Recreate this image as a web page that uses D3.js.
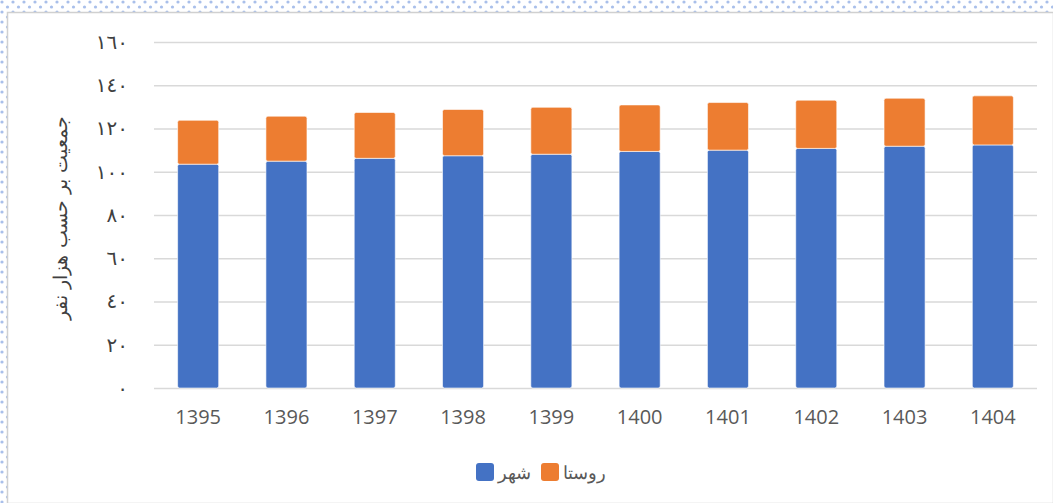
<!DOCTYPE html>
<html>
<head>
<meta charset="utf-8">
<script src="https://cdn.jsdelivr.net/npm/d3@7"></script>
<style>
  body { margin: 0; background: #fff; }
  svg { display: block; }
</style>
</head>
<body>
<svg width="1053" height="503"></svg>
<script>
// data (population, thousands)
var years = ["1395", "1396", "1397", "1398", "1399", "1400", "1401", "1402", "1403", "1404"];
var urban = [103.5, 104.9, 106.2, 107.4, 108.1, 109.4, 110.0, 110.8, 111.8, 112.4];
var rural = [20.3, 20.8, 21.2, 21.4, 21.7, 21.5, 22.0, 22.3, 22.2, 22.7];
var yTicks = [0, 20, 40, 60, 80, 100, 120, 140, 160];
var seriesNames = ["شهر", "روستا"];
var colors = ["#4472c4", "#ed7d31"];
var yTitle = "جمعیت بر حسب هزار نفر";

var svg = d3.select("svg");
var width = +svg.attr("width");
var height = +svg.attr("height");

// arabic-indic digits for the y ticks
var toArabic = function (n) {
  return String(n).replace(/[0-9]/g, function (c) { return "٠١٢٣٤٥٦٧٨٩"[+c]; });
};

// dotted page background
var defs = svg.append("defs");
var pat = defs.append("pattern")
  .attr("id", "dots")
  .attr("patternUnits", "userSpaceOnUse")
  .attr("width", 11).attr("height", 10);
pat.append("rect").attr("width", 11).attr("height", 10).attr("fill", "#fff");
pat.append("circle").attr("cx", 2).attr("cy", 2).attr("r", 1.6).attr("fill", "#a9bfea");
pat.append("circle").attr("cx", 7.5).attr("cy", 7).attr("r", 1.6).attr("fill", "#a9bfea");
svg.append("rect").attr("width", width).attr("height", height).attr("fill", "url(#dots)");

// chart area
svg.append("rect")
  .attr("x", 7.5).attr("y", 12.5)
  .attr("width", width - 7).attr("height", height - 12)
  .attr("fill", "#fff")
  .attr("stroke", "#d0d0d0")
  .attr("stroke-width", 1.5);

var margin = { top: 42, left: 154 };
var innerWidth = 883;
var innerHeight = 388 - margin.top;

var g = svg.append("g")
  .attr("transform", "translate(" + margin.left + "," + margin.top + ")");

var xScale = d3.scaleBand()
  .domain(years)
  .range([0, innerWidth])
  .paddingInner(0.535)
  .paddingOuter(0.2675);

var yScale = d3.scaleLinear()
  .domain([0, 160])
  .range([innerHeight, 0]);

// gridlines + y labels
var yAxis = d3.axisLeft(yScale)
  .tickValues(yTicks)
  .tickSize(-innerWidth)
  .tickPadding(26)
  .tickFormat(toArabic);

var yAxisGroup = g.append("g").call(yAxis);
yAxisGroup.select(".domain").remove();
yAxisGroup.selectAll(".tick line").attr("stroke", "#d9d9d9").attr("stroke-width", 1.5);
yAxisGroup.selectAll(".tick text")
  .attr("font-family", "'DejaVu Serif', 'DejaVu Sans', serif")
  .attr("font-size", 20)
  .attr("fill", "#404040");

// stacked bars
var table = years.map(function (y, i) { return { year: y, urban: urban[i], rural: rural[i] }; });
var stack = d3.stack().keys(["urban", "rural"])(table);

g.selectAll(".series")
  .data(stack)
  .enter().append("g")
  .attr("fill", function (d, i) { return colors[i]; })
  .selectAll("rect")
  .data(function (d) { return d; })
  .enter().append("rect")
  .attr("x", function (d) { return xScale(d.data.year); })
  .attr("y", function (d) { return yScale(d[1]); })
  .attr("width", xScale.bandwidth())
  .attr("height", function (d) { return yScale(d[0]) - yScale(d[1]); })
  .attr("rx", 2)
  .attr("stroke", "#fff")
  .attr("stroke-opacity", 0.6)
  .attr("stroke-width", 1);

// x axis labels
var xAxis = d3.axisBottom(xScale).tickSize(0).tickPadding(22);
var xAxisGroup = g.append("g")
  .attr("transform", "translate(0," + innerHeight + ")")
  .call(xAxis);
xAxisGroup.select(".domain").remove();
xAxisGroup.selectAll(".tick text")
  .attr("font-family", "'Open Sans', sans-serif")
  .attr("font-size", 20)
  .attr("fill", "#595959");

// y axis title
svg.append("text")
  .text(yTitle)
  .attr("transform", "translate(62,218) rotate(-90)")
  .attr("text-anchor", "middle")
  .attr("dominant-baseline", "middle")
  .attr("font-family", "'DejaVu Serif', serif")
  .attr("font-size", 19)
  .attr("fill", "#404040");

// legend
var legendX = [476, 541];
var legend = svg.append("g");
seriesNames.forEach(function (name, i) {
  legend.append("rect")
    .attr("x", legendX[i]).attr("y", 463)
    .attr("width", 18).attr("height", 18)
    .attr("rx", 3)
    .attr("fill", colors[i]);
  legend.append("text")
    .text(name)
    .attr("x", legendX[i] + 22).attr("y", 479)
    .attr("text-anchor", "start")
    .attr("font-family", "'DejaVu Serif', serif")
    .attr("font-size", 18)
    .attr("fill", "#595959");
});
</script>
</body>
</html>
